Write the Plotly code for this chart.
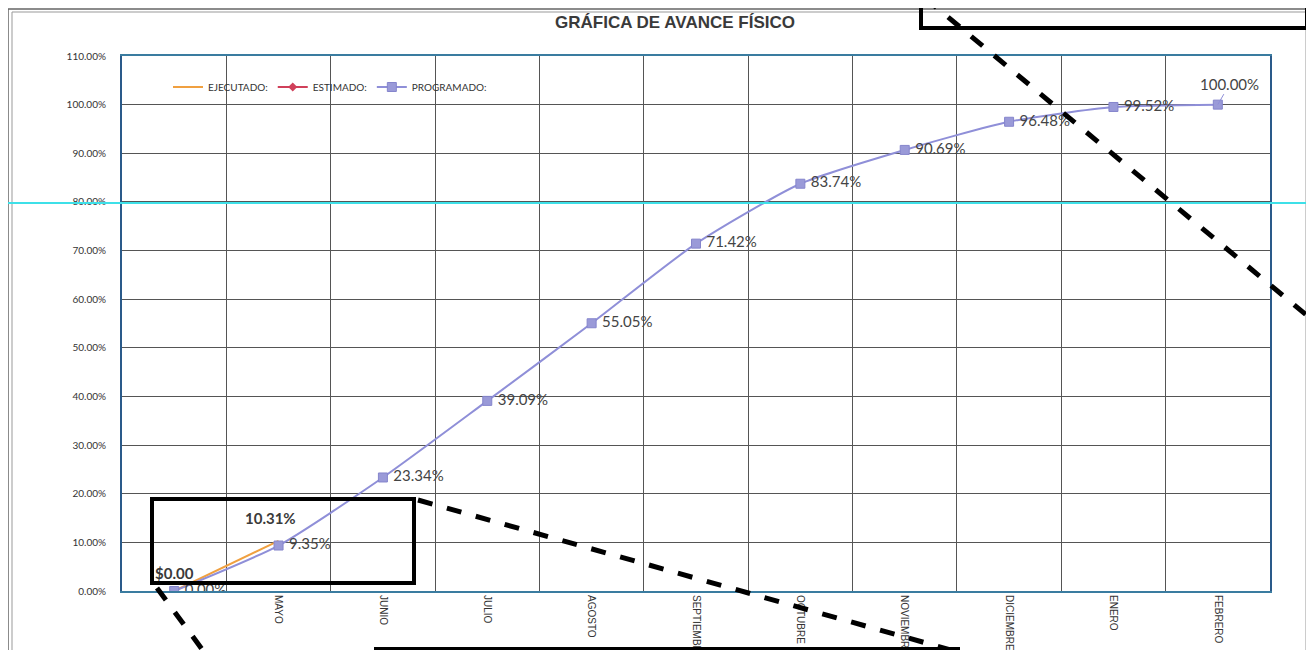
import plotly.graph_objects as go

# ---------------- data ----------------
months = ["", "MAYO", "JUNIO", "JULIO", "AGOSTO", "SEPTIEMBRE", "OCTUBRE",
          "NOVIEMBRE", "DICIEMBRE", "ENERO", "FEBRERO"]
programado = [0.00, 9.35, 23.34, 39.09, 55.05, 71.42, 83.74, 90.69, 96.48, 99.52, 100.00]
ejecutado = [0.00, 10.31]
ejecutado_labels = ["<b>$0.00</b>", "<b>10.31%</b>"]
estimado = []
y_ticks = [0, 10, 20, 30, 40, 50, 60, 70, 80, 90, 100, 110]

# page has an 8px body margin; figure sized so it ends at the window edge
OFF = 8
W, H = 1314 - OFF, 650 - OFF
PLOT_L, PLOT_T, PLOT_R, PLOT_B = 122, 56, 1270, 591   # page pixels
L, T = PLOT_L - OFF, PLOT_T - OFF
R, B = W - (PLOT_R - OFF), H - (PLOT_B - OFF)

def px(x):
    return (x - PLOT_L) / (PLOT_R - PLOT_L)

def py(y):
    return (PLOT_B - y) / (PLOT_B - PLOT_T)

xs = list(range(len(months)))
NB = "\u00a0"

fig = go.Figure()

fig.add_trace(go.Scatter(
    x=xs[:len(ejecutado)], y=ejecutado, name="EJECUTADO:",
    mode="lines", line=dict(color="#f0a040", width=2),
))
fig.add_trace(go.Scatter(
    x=xs[:len(estimado)] or [None], y=estimado or [None], name="ESTIMADO:",
    mode="lines+markers", line=dict(color="#d0405a", width=2),
    marker=dict(symbol="diamond", size=7, color="#d0405a"), showlegend=True,
))
prog_text = [NB + f"{v:.2f}%" for v in programado]
prog_text[-1] = ""
fig.add_trace(go.Scatter(
    x=xs, y=programado, name="PROGRAMADO:",
    mode="lines+markers+text", line=dict(color="#8f8fd8", width=2, shape="spline", smoothing=0.6),
    marker=dict(symbol="square", size=9, color="#9a9ad8", line=dict(color="#8585cc", width=1)),
    text=prog_text, textposition="middle right",
    textfont=dict(family="Lato", size=15, color="#444"),
))

# executed labels
ej_shift = [(0, 18), (-8, 23)]
for i, (v, lab) in enumerate(zip(ejecutado, ejecutado_labels)):
    fig.add_annotation(x=xs[i], y=v, text=lab, showarrow=False,
                       xshift=ej_shift[i][0], yshift=ej_shift[i][1],
                       font=dict(family="Lato", size=15, color="#3a3a3a"))

fig.add_annotation(
    x=xs[-1], y=programado[-1], text=f"{programado[-1]:.2f}%",
    showarrow=True, arrowhead=0, arrowcolor="#8f8fd8", arrowwidth=1,
    ax=12, ay=-21, xanchor="center", yanchor="middle",
    font=dict(family="Lato", size=15, color="#444"),
)

fig.update_layout(
    width=W, height=H,
    margin=dict(l=L, r=R, t=T, b=B),
    paper_bgcolor="white", plot_bgcolor="white",
    template="none",
    title=dict(text="<b>GRÁFICA DE AVANCE FÍSICO</b>", x=(675 - OFF) / W, xanchor="center",
               y=1 - (22 - OFF) / H, yanchor="middle",
               font=dict(family="Liberation Sans", size=17, color="#3a3a3a")),
    showlegend=True,
    legend=dict(orientation="h", x=px(168), y=py(87), xanchor="left", yanchor="middle",
                bgcolor="rgba(0,0,0,0)", font=dict(family="Lato", size=10, color="#333"),
                itemwidth=30, tracegroupgap=0),
    xaxis=dict(range=[-0.5, len(months) - 0.5], tickmode="array", tickvals=xs, ticktext=months,
               tickangle=90, showgrid=False, zeroline=False, automargin=False,
               tickfont=dict(family="Liberation Sans", size=10, color="#333"),
               ticks="", showline=True, linecolor="#3a7ca0", linewidth=2, mirror=True,
               minor=dict(tickmode="array", tickvals=[i + 0.5 for i in xs[:-1]],
                          showgrid=True, gridcolor="#555", gridwidth=1, ticks="")),
    yaxis=dict(range=[0, 110], tickmode="array", tickvals=y_ticks,
               ticktext=[f"{v:.2f}%" for v in y_ticks], showgrid=True, gridcolor="#555",
               gridwidth=1, zeroline=False, automargin=False, ticks="", ticklabelstandoff=12,
               tickfont=dict(family="Lato", size=10, color="#333"),
               showline=True, linecolor="#2a5a8a", linewidth=2, mirror=True),
)

# ---------------- overlay decorations (scan frame & markups) ----------------
shapes = []
shapes.append(dict(type="rect", xref="paper", yref="paper", x0=px(8), x1=px(1310), y0=py(700), y1=py(9),
                   line=dict(color="#666", width=1.5)))
shapes.append(dict(type="rect", xref="paper", yref="paper", x0=px(12), x1=px(1306), y0=py(700), y1=py(12),
                   line=dict(color="#999", width=1)))
shapes.append(dict(type="line", xref="paper", yref="paper", x0=px(0), x1=px(1314), y0=py(203), y1=py(203),
                   line=dict(color="#3ee0e8", width=2)))
box = dict(color="black", width=4)
shapes.append(dict(type="rect", xref="paper", yref="paper", x0=px(152), x1=px(414), y0=py(583), y1=py(499), line=box))
shapes.append(dict(type="rect", xref="paper", yref="paper", x0=px(921), x1=px(1307), y0=py(28), y1=py(-20), line=box))
shapes.append(dict(type="rect", xref="paper", yref="paper", x0=px(376), x1=px(958), y0=py(700), y1=py(649), line=box))
dash = dict(color="black", width=5, dash="dash")
shapes.append(dict(type="line", xref="paper", yref="paper", x0=px(157), x1=px(210), y0=py(588), y1=py(660), line=dash))
shapes.append(dict(type="line", xref="paper", yref="paper", x0=px(418), x1=px(958), y0=py(500), y1=py(652), line=dash))
shapes.append(dict(type="line", xref="paper", yref="paper", x0=px(925), x1=px(1310), y0=py(-2), y1=py(318), line=dash))
fig.update_layout(shapes=shapes)

fig.write_html("out.html")
